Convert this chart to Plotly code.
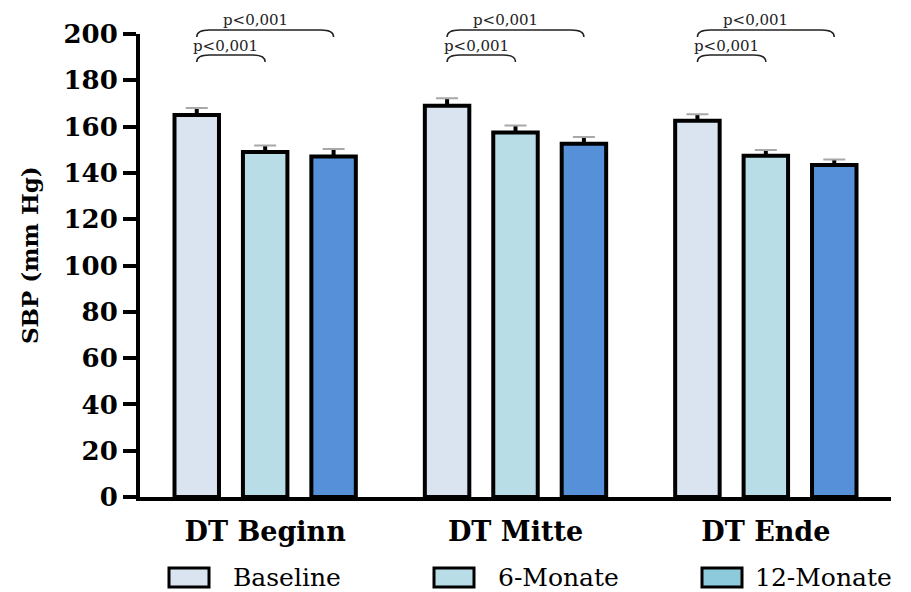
import plotly.graph_objects as go

# ---- data -------------------------------------------------------------
groups = ["DT Beginn", "DT Mitte", "DT Ende"]
series = ["Baseline", "6-Monate", "12-Monate"]

sbp_baseline = [165.0, 169.0, 162.5]
sbp_6m = [149.0, 157.4, 147.4]
sbp_12m = [147.1, 152.6, 143.4]

sem_baseline = [3.0, 3.2, 2.8]
sem_6m = [2.8, 3.1, 2.5]
sem_12m = [3.2, 2.9, 2.4]

y_ticks = [0, 20, 40, 60, 80, 100, 120, 140, 160, 180, 200]
p_label = "p<0,001"
# pairs compared inside each group (series index a vs b)
comparisons = [(0, 1), (0, 2)]

# ---- style ------------------------------------------------------------
bar_colors = ["#dae3f0", "#b8dde6", "#5690d8"]
legend_colors = ["#dae3f0", "#b8dde6", "#8dcadb"]
FONT = "DejaVu Serif"

W, H = 911, 592
L, R, T, B = 140, 20, 34, 95
PW, PH = W - L - R, H - T - B
BARGAP, GROUPGAP = 0.18, 0.35
slot = (1 - BARGAP) / len(series)


def px_x(px):
    return (px - L) / PW


def px_y(py):
    return (H - B - py) / PH


xs = list(range(len(groups)))
values = [sbp_baseline, sbp_6m, sbp_12m]
errors = [sem_baseline, sem_6m, sem_12m]

fig = go.Figure()

for i, (name, vals, errs) in enumerate(zip(series, values, errors)):
    # bar with a heavy black upward error stem (no caps)
    fig.add_trace(go.Bar(
        x=xs, y=vals, name=name, showlegend=False,
        offsetgroup=str(i),
        marker=dict(color=bar_colors[i], line=dict(color="black", width=4)),
        error_y=dict(type="data", symmetric=False, array=errs,
                     arrayminus=[0] * len(errs), color="black",
                     thickness=4, width=0),
    ))

for i, (name, vals, errs) in enumerate(zip(series, values, errors)):
    # thin grey cap at the end of each error stem
    tops = [v + e for v, e in zip(vals, errs)]
    fig.add_trace(go.Scatter(
        x=xs, y=tops, mode="markers", showlegend=False, hoverinfo="skip",
        offsetgroup=str(i),
        marker=dict(size=1, opacity=0),
        error_y=dict(type="data", array=[0] * len(errs), color="#a8a8a8",
                     thickness=2, width=11),
    ))

shapes = []
annotations = []

# significance brackets: (line y, text centre y, text x shift)
levels = {(0, 1): (px_y(55), px_y(46), -0.02), (0, 2): (px_y(30), px_y(20), -0.04)}
drop = 7 / PH
r = 0.05
for g in xs:
    for a, b in comparisons:
        x0 = g + (a - 1) * slot
        x1 = g + (b - 1) * slot
        yl, yt, shift = levels[(a, b)]
        path = (f"M {x0},{yl - drop} Q {x0},{yl} {x0 + r},{yl} "
                f"L {x1 - r},{yl} Q {x1},{yl} {x1},{yl - drop}")
        shapes.append(dict(type="path", xref="x", yref="paper", path=path,
                           line=dict(color="#222", width=1.5)))
        annotations.append(dict(x=(x0 + x1) / 2 + shift, y=yt, xref="x",
                                yref="paper", text=p_label, showarrow=False,
                                xanchor="center", yanchor="middle",
                                borderpad=0,
                                font=dict(family=FONT, size=15, color="#222")))

# y axis title
annotations.append(dict(x=px_x(29), y=px_y(255), xref="paper", yref="paper",
                        text="SBP (mm Hg)", textangle=-90, showarrow=False,
                        xanchor="center", yanchor="middle", borderpad=0,
                        font=dict(family=FONT, size=23, color="black",
                                  weight="bold")))

# legend row
box_left = [169, 434, 702]
text_left = [232, 497, 754]
for name, col, bx, tx in zip(series, legend_colors, box_left, text_left):
    shapes.append(dict(type="rect", xref="paper", yref="paper",
                       x0=px_x(bx), x1=px_x(bx + 40),
                       y0=px_y(587), y1=px_y(568),
                       fillcolor=col, line=dict(color="black", width=3)))
    annotations.append(dict(x=px_x(tx), y=px_y(577), xref="paper",
                            yref="paper", text=name, showarrow=False,
                            xanchor="left", yanchor="middle", borderpad=0,
                            font=dict(family=FONT, size=25, color="black")))

fig.update_layout(
    width=W, height=H, autosize=False,
    margin=dict(l=L, r=R, t=T, b=B, pad=0),
    paper_bgcolor="white", plot_bgcolor="white",
    barmode="group", bargap=BARGAP, bargroupgap=GROUPGAP,
    scattermode="group", scattergap=BARGAP,
    showlegend=False,
    shapes=shapes, annotations=annotations,
    xaxis=dict(range=[-0.5, len(groups) - 0.5], tickvals=xs, ticktext=groups,
               showline=True, linecolor="black", linewidth=4, ticks="",
               showgrid=False, zeroline=False, ticklabelstandoff=8,
               tickfont=dict(family=FONT, size=27, color="black",
                             weight="bold")),
    yaxis=dict(range=[0, 200], tickvals=y_ticks, showline=True,
               linecolor="black", linewidth=4, ticks="outside", ticklen=13,
               tickwidth=4, tickcolor="black", showgrid=False,
               zeroline=False, ticklabelstandoff=0,
               tickfont=dict(family=FONT, size=26, color="black",
                             weight="bold")),
)

fig.write_html("out.html")
